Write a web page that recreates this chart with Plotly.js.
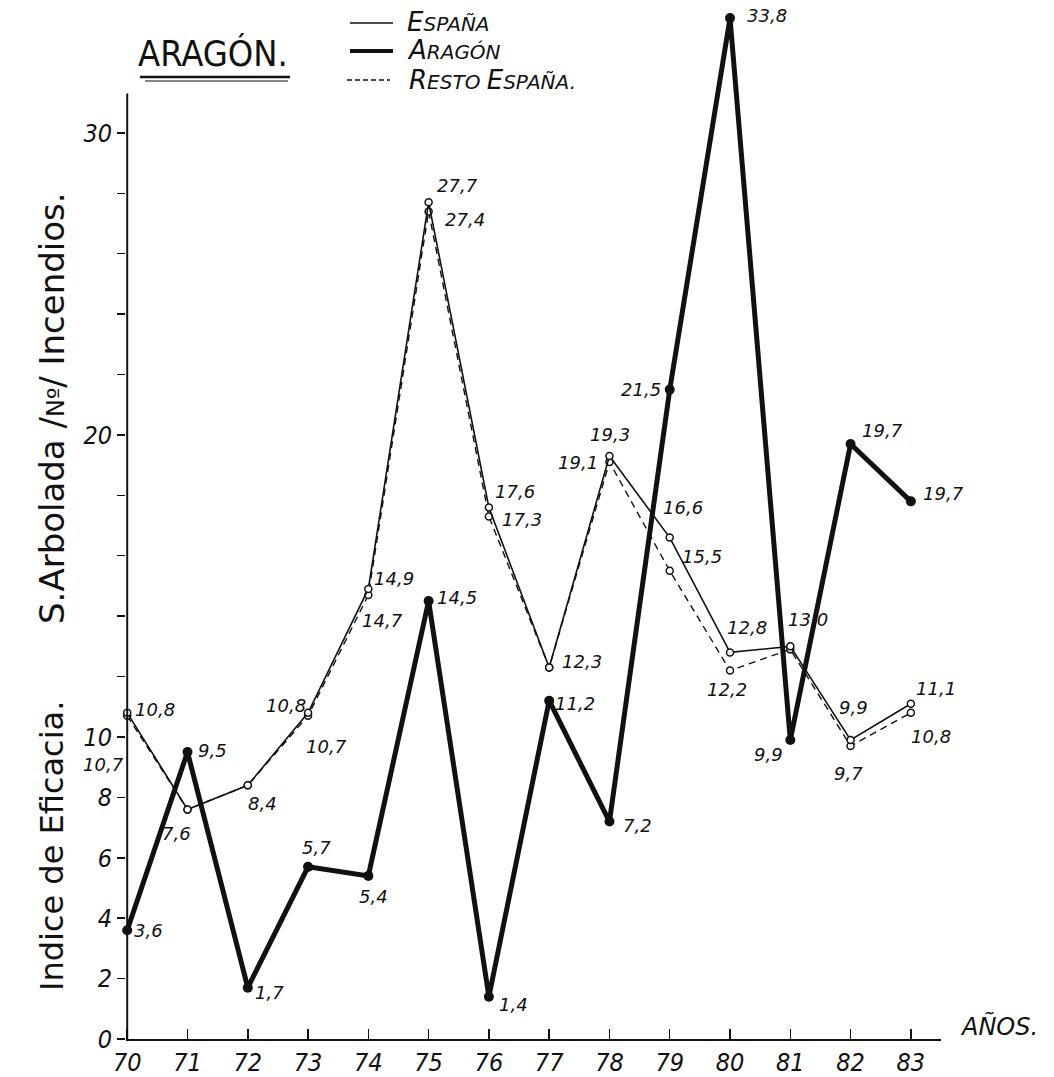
<!DOCTYPE html>
<html><head><meta charset="utf-8">
<script src="https://cdn.plot.ly/plotly-3.0.1.min.js"></script>
<style>html,body{margin:0;padding:0;background:#fff}</style>
</head><body>
<div id="chart" style="width:1054px;height:1077px"></div>
<script>
// ---------- data ----------
const years  = [70,71,72,73,74,75,76,77,78,79,80,81,82,83];
const espana = [10.8,7.6,8.4,10.8,14.9,27.7,17.6,12.3,19.3,16.6,12.8,13.0,9.9,11.1];
const resto  = [10.7,7.6,8.4,10.7,14.7,27.4,17.3,12.3,19.1,15.5,12.2,12.9,9.7,10.8];
const aragon = [3.6,9.5,1.7,5.7,5.4,14.5,1.4,11.2,7.2,21.5,33.8,9.9,19.7,17.8];

const espanaLabels = ["10,8","7,6","8,4","10,8","14,9","27,7","17,6","12,3","19,3","16,6","12,8","13,0","9,9","11,1"];
const restoLabels  = ["10,7","","","10,7","14,7","27,4","17,3","","19,1","15,5","12,2","","9,7","10,8"];
const aragonLabels = ["3,6","9,5","1,7","5,7","5,4","14,5","1,4","11,2","7,2","21,5","33,8","9,9","19,7","19,7"];

const xTickText = ["70","71","72","73","74","75","76","77","78","79","80","81","82","83"];
const yTickVals = [0,2,4,6,8,10,12,14,16,18,20,22,24,26,28,30];
const yTickText = ["0","2","4","6","8","10","","","","","20","","","","","30"];

const seriesNames = ["España","Aragón","Resto España"];

// ---------- label offsets (styling, px) ----------
const espanaDX = [28,-11,15,-22,26,29,26,33,1,13,17,18,3,25];
const espanaDY = [-3,24,18,-7,-10,-17,-16,-6,-22,-30,-25,-27,-32,-15];
const restoDX  = [-24,0,0,18,14,36,33,0,-31,32,-3,0,-2,20];
const restoDY  = [49,0,0,31,25,8,3,0,0,-14,19,0,27,24];
const aragonDX = [21,25,22,8,5,28,25,26,28,-29,37,-22,32,33];
const aragonDY = [0,-2,5,-19,21,-4,8,3,4,0,-3,15,-13,-8];

// ---------- geometry helpers ----------
const W = 1054, H = 1077;
const M = {l:126, r:113, t:3, b:38};
const PW = W - M.l - M.r, PH = H - M.t - M.b;
const px2x = p => (p - M.l) / PW;
const py2y = p => (H - M.b - p) / PH;

const HAND = "DejaVu Sans, Liberation Sans, sans-serif";
const NARROW = "Liberation Sans Narrow, DejaVu Sans Condensed, Liberation Sans, sans-serif";

function labelAnns(vals, labels, dx, dy) {
  const out = [];
  years.forEach((yr, i) => {
    if (!labels[i]) return;
    out.push({
      x: yr, y: vals[i], xref: 'x', yref: 'y', xanchor: 'center', yanchor: 'middle',
      text: '<i>' + labels[i] + '</i>', showarrow: false,
      xshift: dx[i], yshift: -dy[i],
      font: {family: HAND, size: 18, color: '#111'}
    });
  });
  return out;
}

function paperText(px, py, text, font, extra) {
  return Object.assign({xref:'paper', yref:'paper', x: px2x(px), y: py2y(py),
    xanchor:'center', yanchor:'middle', showarrow:false, text: text, font: font}, extra || {});
}

const traces = [
  {x: years, y: resto, mode: 'lines+markers', name: seriesNames[2], showlegend: false,
   cliponaxis: false,
   line: {color: '#111', width: 1.4, dash: '7px,5px'},
   marker: {symbol: 'circle', size: 7, color: '#fff', line: {color: '#111', width: 1.5}}},
  {x: years, y: espana, mode: 'lines+markers', name: seriesNames[0], showlegend: false,
   cliponaxis: false,
   line: {color: '#111', width: 1.6},
   marker: {symbol: 'circle', size: 7, color: '#fff', line: {color: '#111', width: 1.5}}},
  {x: years, y: aragon, mode: 'lines+markers', name: seriesNames[1], showlegend: false,
   cliponaxis: false,
   line: {color: '#111', width: 5},
   marker: {symbol: 'circle', size: 10, color: '#111'}}
];

const legFont = {family: HAND, size: 26, color: '#111'};
const sm = "<span style='font-size:20px'>";
const annotations = [].concat(
  labelAnns(espana, espanaLabels, espanaDX, espanaDY),
  labelAnns(resto, restoLabels, restoDX, restoDY),
  labelAnns(aragon, aragonLabels, aragonDX, aragonDY),
  [
    paperText(213, 54, 'ARAGÓN.', {family: NARROW, size: 36, color:'#111'}),
    paperText(405, 22, "<i>E" + sm + "SPAÑA</span></i>", legFont, {xanchor:'left'}),
    paperText(405, 50, "<i>A" + sm + "RAGÓN</span></i>", legFont, {xanchor:'left'}),
    paperText(407, 80, "<i>R" + sm + "ESTO </span>E" + sm + "SPAÑA.</span></i>", legFont, {xanchor:'left'}),
    paperText(999, 1026, '<i>AÑOS.</i>', {family: HAND, size: 24, color:'#111'}),
    paperText(52, 846, 'Indice de Eficacia.', {family: HAND, size: 32, color:'#111'}, {textangle:-90}),
    paperText(52, 408, "S.Arbolada /<span style='font-size:24px'>Nº</span>/ Incendios.", {family: HAND, size: 34, color:'#111'}, {textangle:-90})
  ]
);

const shapes = [
  // y axis line, stops at top of drawn axis
  {type:'line', xref:'x', yref:'y', x0:70, x1:70, y0:0, y1:31.3, line:{color:'#111', width:2}},
  // title double underline
  {type:'line', xref:'paper', yref:'paper', x0:px2x(140), x1:px2x(290), y0:py2y(77), y1:py2y(77), line:{color:'#111', width:2.5}},
  {type:'line', xref:'paper', yref:'paper', x0:px2x(145), x1:px2x(288), y0:py2y(81), y1:py2y(81), line:{color:'#111', width:1.2}},
  // legend samples
  {type:'line', xref:'paper', yref:'paper', x0:px2x(350), x1:px2x(393), y0:py2y(23), y1:py2y(23), line:{color:'#111', width:1.5}},
  {type:'line', xref:'paper', yref:'paper', x0:px2x(350), x1:px2x(393), y0:py2y(51), y1:py2y(51), line:{color:'#111', width:4}},
  {type:'line', xref:'paper', yref:'paper', x0:px2x(347), x1:px2x(390), y0:py2y(80), y1:py2y(80), line:{color:'#111', width:1.3, dash:'5px,3px'}}
];

const layout = {
  width: W, height: H,
  margin: M,
  paper_bgcolor: '#fff', plot_bgcolor: '#fff',
  showlegend: false,
  xaxis: {
    range: [69.98, 83.5], showgrid: false, zeroline: false,
    showline: true, linecolor: '#111', linewidth: 2,
    tickmode: 'array', tickvals: years, ticktext: xTickText,
    ticks: 'inside', ticklen: 10, tickwidth: 1.5, tickcolor: '#111',
    tickfont: {family: NARROW, size: 25, color: '#111', style: 'italic'}
  },
  yaxis: {
    range: [0, 34.3], showgrid: false, zeroline: false, showline: false,
    tickmode: 'array', tickvals: yTickVals, ticktext: yTickText,
    ticks: 'outside', ticklen: 8, tickwidth: 1.5, tickcolor: '#111',
    tickfont: {family: NARROW, size: 25, color: '#111', style: 'italic'}
  },
  annotations: annotations,
  shapes: shapes
};

Plotly.newPlot('chart', traces, layout, {displayModeBar: false, staticPlot: true});
</script>
</body></html>
